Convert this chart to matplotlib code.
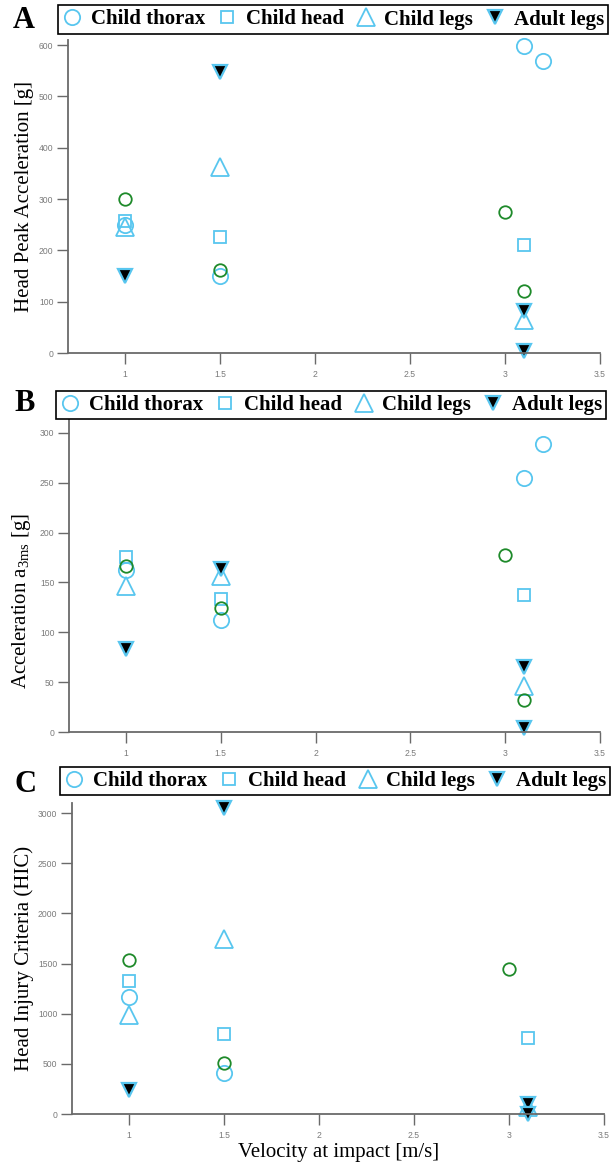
import numpy as np
import matplotlib
matplotlib.use('Agg')
import matplotlib.pyplot as plt
from matplotlib.lines import Line2D

plt.rcParams['mathtext.fontset'] = 'custom'
plt.rcParams['mathtext.rm'] = 'Liberation Serif'
plt.rcParams['mathtext.it'] = 'Liberation Serif:italic'

# ---------------- data ----------------
thorax_x = [1, 1.5, 3.1, 3.2]
green_x = [1, 1.5, 3.0, 3.1]
head_x = [1, 1.5, 3.1]
childlegs_x = [1, 1.5, 3.1]
adultlegs_x = [1, 1.5, 3.1, 3.1]

# Panel A: Head peak acceleration [g]
A_thorax = [250, 150, 599, 569]
A_green = [301, 161, 274, 121]
A_head = [258, 227, 210]
A_childlegs = [245, 363, 64]
A_adultlegs = [151, 547, 81, 3]

# Panel B: Acceleration a3ms [g]
B_thorax = [163, 112, 255, 289]
B_green = [167, 124, 178, 32]
B_head = [176, 133, 137]
B_childlegs = [146, 156, 46]
B_adultlegs = [83, 164, 65, 4]

# Panel C: HIC
C_thorax = [1166, 409, np.nan, np.nan]
C_green = [1532, 512, 1443, np.nan]
C_head = [1323, 795, 758]
C_childlegs = [989, 1741, 67]
C_adultlegs = [243, 3050, 103, 4]

legend_labels = ['Child thorax', 'Child head', 'Child legs', 'Adult legs']
xticks = [1, 1.5, 2, 2.5, 3, 3.5]
xticklabels = ['1', '1.5', '2', '2.5', '3', '3.5']

LB = '#58C6EF'
GR = '#1E8A2A'
SPINE = '#6a6a6a'
SERIF = 'Liberation Serif'
SANS = 'Liberation Sans'

W, H = 613, 1167
fig = plt.figure(figsize=(W / 100, H / 100), dpi=100)


def rect(l, t, r, b):
    return [l / W, 1 - b / H, (r - l) / W, (b - t) / H]


styles = dict(
    thorax=dict(marker='o', ms=11, mfc='none', mec=LB, mew=1.3, ls='none'),
    head=dict(marker='s', ms=8.5, mfc='none', mec=LB, mew=1.3, ls='none'),
    childlegs=dict(marker='^', ms=12.5, mfc='none', mec=LB, mew=1.3, ls='none'),
    adultlegs=dict(marker='v', ms=9.5, mfc='black', mec=LB, mew=1.6, ls='none'),
    green=dict(marker='o', ms=9, mfc='none', mec=GR, mew=1.3, ls='none'),
)


def panel(r, thorax, head, childlegs, adultlegs, green, ylim, yticks,
          letter, letter_pos, ylabel, ylabel_pos, leg_center):
    ax = fig.add_axes(rect(*r))
    ax.plot(thorax_x, thorax, **styles['thorax'])
    ax.plot(head_x, head, **styles['head'])
    ax.plot(childlegs_x, childlegs, **styles['childlegs'])
    ax.plot(adultlegs_x, adultlegs, **styles['adultlegs'])
    ax.plot(green_x, green, **styles['green'])
    ax.set_xlim(0.7, 3.5)
    ax.set_ylim(*ylim)
    ax.set_xticks(xticks)
    ax.set_xticklabels(xticklabels)
    ax.set_yticks(yticks)
    ax.set_yticklabels([str(v) for v in yticks])
    for s in ['top', 'right']:
        ax.spines[s].set_visible(False)
    for s in ['left', 'bottom']:
        ax.spines[s].set_color(SPINE)
        ax.spines[s].set_linewidth(1.3)
    ax.tick_params(axis='both', direction='out', length=8, width=1.0,
                   color=SPINE, labelcolor='#7a7a7a', labelsize=6.2)
    ax.tick_params(axis='x', pad=4)
    ax.tick_params(axis='y', pad=2.5)
    for t in ax.get_xticklabels() + ax.get_yticklabels():
        t.set_fontfamily(SANS)
    for sp in ax.spines.values():
        sp.set_clip_on(False)
    for ln in ax.lines:
        ln.set_clip_on(False)

    fig.text(letter_pos[0] / W, 1 - letter_pos[1] / H, letter,
             fontfamily=SERIF, fontweight='bold', fontsize=22,
             ha='center', va='center')
    fig.text(ylabel_pos[0] / W, 1 - ylabel_pos[1] / H, ylabel,
             fontfamily=SERIF, fontsize=15, rotation=90,
             ha='center', va='center')

    handles = [Line2D([], [], **styles[k]) for k in
               ['thorax', 'head', 'childlegs', 'adultlegs']]
    leg = fig.legend(handles, legend_labels, loc='center',
                     bbox_to_anchor=(leg_center[0] / W, 1 - leg_center[1] / H),
                     ncol=4, frameon=True, fancybox=False, edgecolor='black',
                     prop=dict(family=SERIF, weight='bold', size=15),
                     handlelength=1.0, handletextpad=0.4, columnspacing=0.55,
                     borderpad=0.2, borderaxespad=0, framealpha=1)
    leg.get_frame().set_linewidth(1.2)
    return ax


panel((68, 40, 600, 353), A_thorax, A_head, A_childlegs, A_adultlegs, A_green,
      (0, 610), [0, 100, 200, 300, 400, 500, 600],
      'A', (24, 21), 'Head Peak Acceleration [g]', (25, 196), (333, 19.5))

panel((69, 413, 600, 732), B_thorax, B_head, B_childlegs, B_adultlegs, B_green,
      (0, 320), [0, 50, 100, 150, 200, 250, 300],
      'B', (25, 404), r'Acceleration a$_{\mathrm{3ms}}$ [g]', (22, 601), (331, 405))

axC = panel((72, 803, 604, 1114), C_thorax, C_head, C_childlegs, C_adultlegs, C_green,
            (0, 3100), [0, 500, 1000, 1500, 2000, 2500, 3000],
            'C', (25, 784), 'Head Injury Criteria (HIC)', (24, 958), (335, 781))

fig.text(339 / W, 1 - 1153 / H, 'Velocity at impact [m/s]', fontfamily=SERIF,
         fontsize=15, ha='center', va='center')

fig.savefig('out.png', dpi=100)
